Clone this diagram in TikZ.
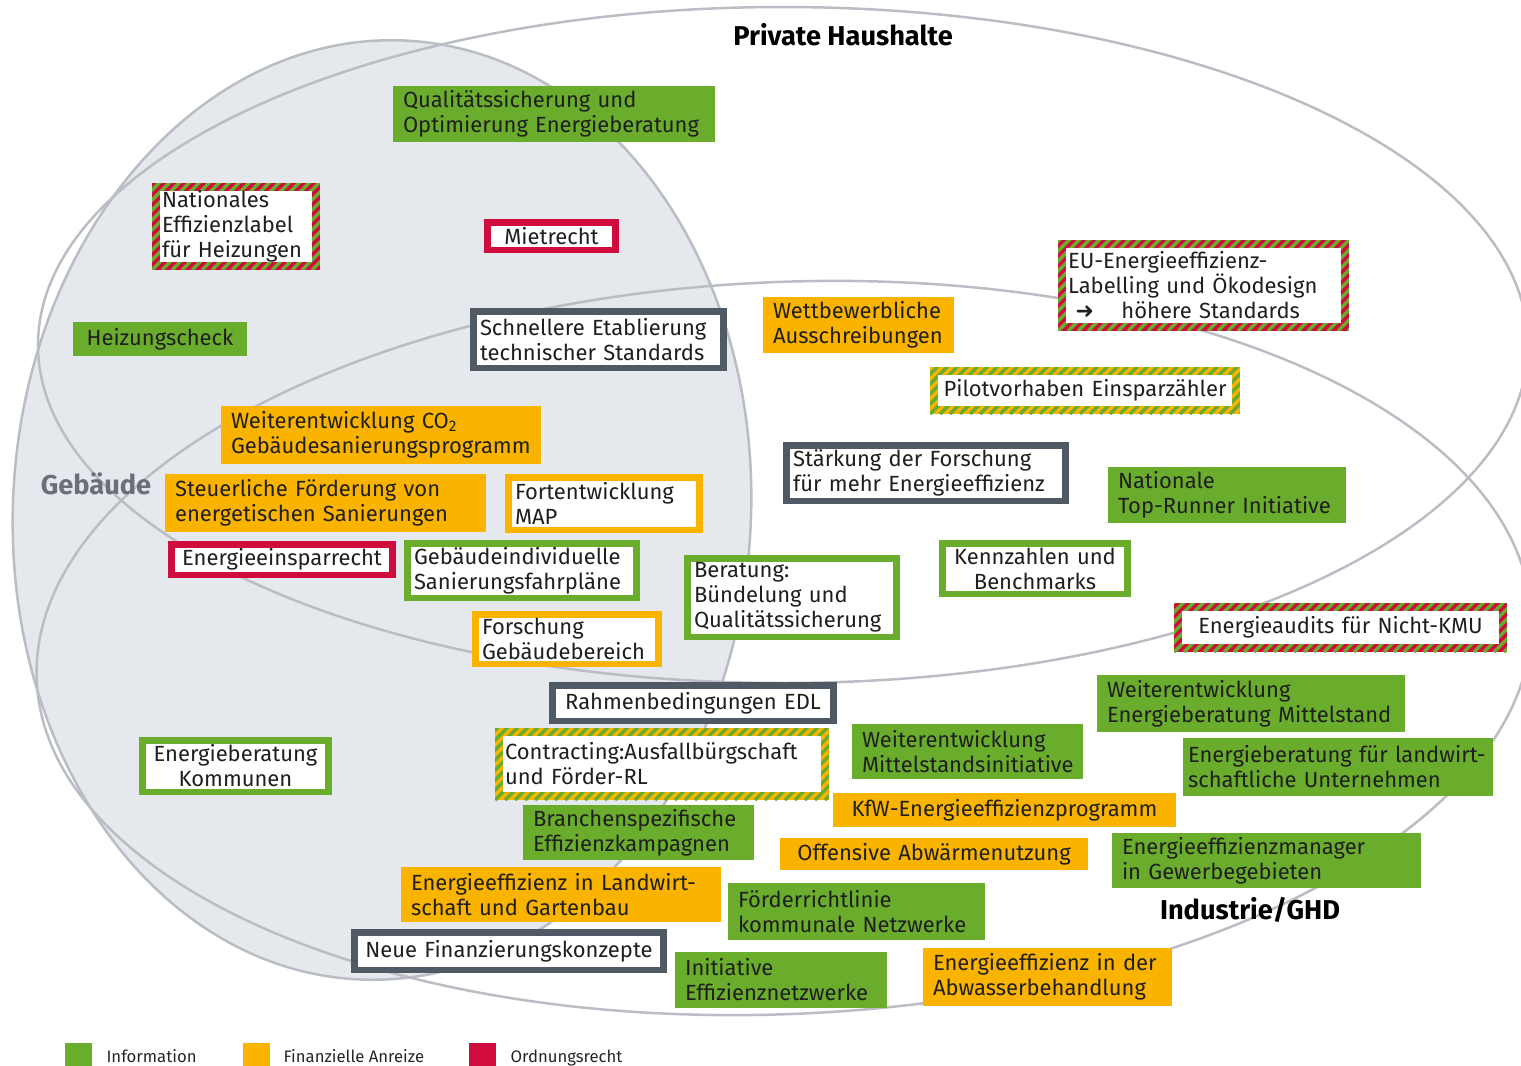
\documentclass[tikz,border=0pt]{standalone}
\usepackage{fontspec}
\setmainfont{Fira Sans}
\newfontfamily\pfeilfont{DejaVu Sans}
\usepackage{tikz}
\usetikzlibrary{calc}
\usetikzlibrary{positioning}

\definecolor{infogreen}{RGB}{106,172,44}
\definecolor{anreizorange}{RGB}{250,180,0}
\definecolor{rechtred}{RGB}{208,12,62}
\definecolor{slate}{RGB}{80,90,100}
\definecolor{hausgrey}{RGB}{229,232,236}
\definecolor{ringgrey}{RGB}{186,190,196}
\definecolor{labelgrey}{RGB}{105,112,122}

\tikzset{
  massnahme/.style={inner xsep=0.2cm, inner ysep=0pt, align=left, font=\fontsize{12.5}{14.2}\selectfont, text=black!88},
  info/.style={massnahme, fill=infogreen},
  anreiz/.style={massnahme, fill=anreizorange},
  rahmen/.style={massnahme, fill=#1, path picture={
      \fill[white] ($(path picture bounding box.south west)+(0.13cm,0.13cm)$) rectangle ($(path picture bounding box.north east)-(0.13cm,0.13cm)$);}},
  streifen/.style 2 args={massnahme, fill=#1, path picture={
      \foreach \k in {0,...,48}
        \draw[#2, line width=0.07cm] ($(path picture bounding box.south west)+(\k*0.2cm-2cm,0cm)$) -- ++(2.2cm,2.2cm);
      \fill[white] ($(path picture bounding box.south west)+(0.16cm,0.16cm)$) rectangle ($(path picture bounding box.north east)-(0.16cm,0.16cm)$);}},
  ring/.style={draw=ringgrey, line width=0.05cm},
  sektor/.style={font=\fontsize{15.5}{17}\selectfont\bfseries},
  legende/.style={minimum size=0.54cm, inner sep=0pt},
  legendtext/.style={font=\fontsize{9.5}{11}\selectfont, text=black!85, text height=1.6ex, text depth=0.4ex}
}

\begin{document}
\begin{tikzpicture}[x=0.02cm, y=-0.02cm]
\useasboundingbox (0,0) rectangle (1521,1065);
\clip (0,0) rectangle (1521,1065);

% Sektoren
\fill[hausgrey, rotate around={-3:(382,510)}] (382,510) ellipse [x radius=369, y radius=470];
\draw[ring, rotate around={-3:(382,510)}] (382,510) ellipse [x radius=369, y radius=470];
\draw[ring] (783,345) ellipse [x radius=745, y radius=338];
\draw[ring, rotate around={2.5:(784,648)}] (784,648) ellipse [x radius=748, y radius=366];

\node[sektor] (haushalte) at (843,35) {Private Haushalte};
\node[sektor, text=labelgrey] (gebaeude) at (96,484) {Gebäude};
\node[sektor] (industrie) at (1250,910) {Industrie/GHD};

% Massnahmen
\node[info, text width=6.04cm, minimum height=1.12cm] (qualitaet) at (554,114) {Qualitätssicherung und\\Optimierung Energieberatung};
\node[streifen={rechtred}{infogreen}, text width=2.96cm, minimum height=1.74cm] (heizlabel) at (236,226.5) {Nationales\\Effizienzlabel\\für Heizungen};
\node[rahmen=rechtred, align=center, text width=2.3cm, minimum height=0.68cm] (mietrecht) at (551.5,236) {Mietrecht};
\node[info, align=center, text width=3.08cm, minimum height=0.68cm] (heizcheck) at (160,339) {Heizungscheck};
\node[rahmen=slate, text width=4.74cm, minimum height=1.26cm] (standards) at (598.5,339.5) {Schnellere Etablierung\\technischer Standards};
\node[anreiz, text width=3.42cm, minimum height=1.12cm] (ausschreibung) at (858.5,325) {Wettbewerbliche\\Ausschreibungen};
\node[streifen={rechtred}{infogreen}, text width=5.42cm, minimum height=1.82cm] (eulabel) at (1203.5,285.5) {EU-Energieeffizienz-\\Labelling und Ökodesign\\\hspace*{0.15cm}{\pfeilfont ➜}\hspace{0.55cm}höhere Standards};
\node[streifen={anreizorange}{infogreen}, align=center, text width=5.8cm, minimum height=0.94cm] (einsparzaehler) at (1085,390.5) {Pilotvorhaben Einsparzähler};
\node[anreiz, text width=6.0cm, minimum height=1.16cm] (gebprogramm) at (381,435) {Weiterentwicklung CO\textsubscript{2}\\Gebäudesanierungsprogramm};
\node[anreiz, text width=6.02cm, minimum height=1.16cm] (steuer) at (325.5,503) {Steuerliche Förderung von\\energetischen Sanierungen};
\node[rahmen=anreizorange, text width=3.56cm, minimum height=1.18cm] (map) at (604,503.5) {Fortentwicklung\\MAP};
\node[rahmen=slate, text width=5.32cm, minimum height=1.24cm] (forschung) at (926,473) {Stärkung der Forschung\\für mehr Energieeffizienz};
\node[info, text width=4.36cm, minimum height=1.12cm] (toprunner) at (1227,495) {Nationale\\Top-Runner Initiative};
\node[rahmen=rechtred, align=center, text width=4.16cm, minimum height=0.74cm] (enev) at (282,559.5) {Energieeinsparrecht};
\node[rahmen=infogreen, text width=4.32cm, minimum height=1.22cm] (fahrplaene) at (522,570.5) {Gebäudeindividuelle\\Sanierungsfahrpläne};
\node[rahmen=infogreen, text width=3.92cm, minimum height=1.7cm] (beratung) at (792,597.5) {Beratung:\\Bündelung und\\Qualitätssicherung};
\node[rahmen=infogreen, align=center, text width=3.44cm, minimum height=1.14cm] (kennzahlen) at (1035,568.5) {Kennzahlen und\\Benchmarks};
\node[streifen={rechtred}{infogreen}, align=center, text width=6.26cm, minimum height=0.98cm] (audits) at (1340.5,627.5) {Energieaudits für Nicht-KMU};
\node[rahmen=anreizorange, text width=3.4cm, minimum height=1.12cm] (forschgeb) at (567,639) {Forschung\\Gebäudebereich};
\node[rahmen=slate, align=center, text width=5.36cm, minimum height=0.84cm] (edl) at (693,703) {Rahmenbedingungen EDL};
\node[info, text width=5.76cm, minimum height=1.14cm] (mittelstand) at (1251,703.5) {Weiterentwicklung\\Energieberatung Mittelstand};
\node[rahmen=infogreen, align=center, text width=3.46cm, minimum height=1.16cm] (kommunen) at (235.5,766) {Energieberatung\\Kommunen};
\node[streifen={anreizorange}{infogreen}, text width=6.28cm, minimum height=1.44cm] (contracting) at (662,764) {Contracting:Ausfallbürgschaft\\und Förder-RL};
\node[info, text width=4.22cm, minimum height=1.1cm] (mittelinit) at (967.5,751.5) {Weiterentwicklung\\Mittelstandsinitiative};
\node[info, inner xsep=0.1cm, text width=6.0cm, minimum height=1.16cm] (landwunt) at (1338,767) {Energieberatung für landwirt-\\schaftliche Unternehmen};
\node[anreiz, align=center, text width=6.46cm, minimum height=0.68cm] (kfw) at (1004.5,810) {KfW-Energieeffizienzprogramm};
\node[info, text width=4.22cm, minimum height=1.1cm] (branchen) at (638.5,832.5) {Branchenspezifische\\Effizienzkampagnen};
\node[anreiz, align=center, text width=5.76cm, minimum height=0.64cm] (abwaerme) at (934,854) {Offensive Abwärmenutzung};
\node[info, text width=5.78cm, minimum height=1.1cm] (manager) at (1266.5,860.5) {Energieeffizienzmanager\\in Gewerbegebieten};
\node[anreiz, text width=6.0cm, minimum height=1.1cm] (landwirt) at (561,894.5) {Energieeffizienz in Landwirt-\\schaft und Gartenbau};
\node[info, text width=4.74cm, minimum height=1.14cm] (netzrl) at (856.5,911.5) {Förderrichtlinie\\kommunale Netzwerke};
\node[rahmen=slate, align=center, text width=5.92cm, minimum height=0.88cm] (finanzkonz) at (509,951) {Neue Finanzierungskonzepte};
\node[info, text width=3.84cm, minimum height=1.12cm] (netzwerke) at (781,980) {Initiative\\Effizienznetzwerke};
\node[anreiz, text width=4.58cm, minimum height=1.16cm] (abwasser) at (1047.5,977) {Energieeffizienz in der\\Abwasserbehandlung};

% Legende
\node[legende, fill=infogreen] (legInfo) at (78.5,1056.5) {};
\node[legendtext, right=0.16cm of legInfo] (txtInfo) {Information};
\node[legende, fill=anreizorange] (legAnreiz) at (256.5,1056.5) {};
\node[legendtext, right=0.14cm of legAnreiz] (txtAnreiz) {Finanzielle Anreize};
\node[legende, fill=rechtred] (legRecht) at (482.5,1056.5) {};
\node[legendtext, right=0.16cm of legRecht] (txtRecht) {Ordnungsrecht};
\end{tikzpicture}
\end{document}
